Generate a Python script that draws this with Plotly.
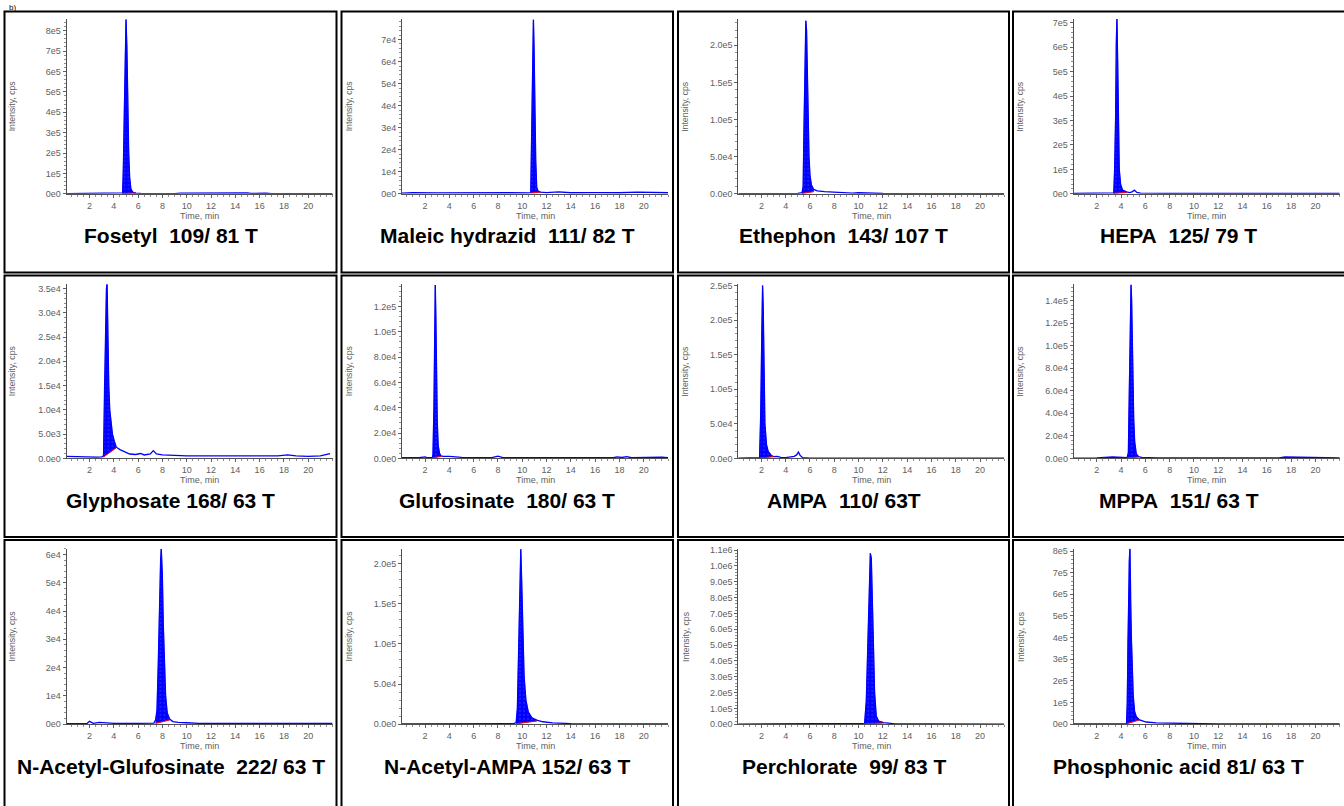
import plotly.graph_objects as go

W, H = 1344, 806

# ---------------- data ----------------
captions = ["Fosetyl  109/ 81 T", "Maleic hydrazid  111/ 82 T", "Ethephon  143/ 107 T", "HEPA  125/ 79 T",
            "Glyphosate 168/ 63 T", "Glufosinate  180/ 63 T", "AMPA  110/ 63T", "MPPA  151/ 63 T",
            "N-Acetyl-Glufosinate  222/ 63 T", "N-Acetyl-AMPA 152/ 63 T", "Perchlorate  99/ 83 T",
            "Phosphonic acid 81/ 63 T"]

x_ticks = [2, 4, 6, 8, 10, 12, 14, 16, 18, 20]

fosetyl_t = [0.1, 2, 4, 4.6, 4.72, 4.78, 4.85, 4.93, 5.0, 5.07, 5.13, 5.22, 5.3, 5.4, 5.55, 5.8, 6.2, 7, 9,
             9.5, 10.5, 12, 14, 15, 15.3, 16.2, 16.5, 17, 20, 22]
fosetyl_i = [1500, 1500, 1800, 2000, 5000, 1.2e5, 3.8e5, 7.5e5, 8.55e5, 7.2e5, 4.3e5, 2.0e5, 8e4, 2.5e4, 8e3,
             4e3, 2500, 1500, 1500, 4000, 4500, 5000, 5000, 4500, 2500, 5500, 3000, 1500, 1500, 1500]
fosetyl_int = [4.72, 5.8]
fosetyl_base = [1500, 4000]

maleic_t = [0.1, 1, 3, 5, 7, 9, 10.5, 10.7, 10.75, 10.84, 10.92, 10.97, 11.03, 11.11, 11.19, 11.3, 11.5, 12,
            13, 14, 16, 18, 19.5, 22]
maleic_i = [300, 500, 400, 500, 400, 500, 400, 600, 1.8e4, 5.2e4, 7.9e4, 6.7e4, 3.7e4, 1.5e4, 3000, 1200, 800,
            600, 900, 500, 600, 500, 800, 500]
maleic_int = [10.7, 11.5]
maleic_base = [400, 800]

ethephon_t = [0.1, 2, 4, 5.0, 5.35, 5.44, 5.5, 5.58, 5.66, 5.72, 5.78, 5.85, 5.92, 6.0, 6.12, 6.3, 6.6, 7.2, 8,
              8.5, 9.5, 10, 12, 16, 20, 22]
ethephon_i = [300, 300, 400, 600, 1500, 1e4, 8e4, 1.6e5, 2.33e5, 2.2e5, 1.5e5, 9e4, 5e4, 2.5e4, 1.2e4, 6e3, 4e3,
              3e3, 2000, 1500, 1000, 1500, 500, 400, 400, 400]
ethephon_int = [5.35, 6.3]
ethephon_base = [600, 3000]

hepa_t = [0.1, 2, 3.0, 3.4, 3.47, 3.55, 3.6, 3.66, 3.72, 3.77, 3.85, 3.96, 4.12, 4.45, 4.7, 4.9, 5.1, 5.3, 5.6,
          8, 12, 16, 20, 20.5, 21, 22]
hepa_i = [2000, 2000, 2500, 4000, 1e5, 3.1e5, 6.1e5, 7.15e5, 5.4e5, 3.0e5, 1.0e5, 4e4, 1.5e4, 8e3, 5e3, 8e3,
          1.5e4, 6e3, 3000, 2000, 2000, 2000, 2000, 4000, 3000, 2000]
hepa_int = [3.4, 4.45]
hepa_base = [2000, 6000]

glyphosate_t = [0.1, 1, 2, 2.6, 3.0, 3.15, 3.23, 3.31, 3.39, 3.44, 3.5, 3.58, 3.66, 3.77, 3.88, 4.04, 4.2, 4.5,
                4.8, 5.3, 5.8, 6.2, 6.5, 7.0, 7.25, 7.5, 8, 9, 10, 12, 14, 16, 17.5, 18.3, 19, 20, 21, 21.8]
glyphosate_i = [400, 300, 300, 250, 300, 500, 1.4e4, 2.6e4, 3.5e4, 3.59e4, 2.4e4, 1.5e4, 1.0e4, 7e3, 5e3,
                3.5e3, 2.3e3, 1.8e3, 1.5e3, 900, 800, 1000, 700, 900, 1600, 900, 700, 600, 500, 500, 450, 400,
                500, 700, 500, 400, 500, 1000]
glyphosate_int = [3.15, 4.2]
glyphosate_base = [300, 2200]

glufosinate_t = [0.1, 1.5, 2.0, 2.2, 2.6, 2.65, 2.73, 2.78, 2.84, 2.89, 2.95, 3.0, 3.08, 3.19, 3.3, 3.5, 4.0, 5,
                 7.5, 8.0, 8.4, 10, 14, 17.5, 17.8, 18.2, 18.6, 19, 21.5, 22]
glufosinate_i = [500, 500, 1200, 500, 600, 3e3, 4e4, 1.1e5, 1.37e5, 1.1e5, 6.2e4, 3e4, 1e4, 4e3, 2e3, 1500,
                 1500, 800, 600, 1800, 600, 500, 500, 500, 1200, 700, 1300, 500, 1000, 500]
glufosinate_int = [2.6, 3.3]
glufosinate_base = [500, 1500]

ampa_t = [0.1, 1.5, 1.85, 1.94, 2.02, 2.1, 2.15, 2.21, 2.29, 2.42, 2.56, 2.83, 3.0, 3.3, 3.6, 4.0, 4.4, 4.7,
          4.9, 5.05, 5.2, 5.4, 6, 10, 14, 18, 22]
ampa_i = [500, 500, 1000, 6e4, 1.8e5, 2.5e5, 2.2e5, 1.2e5, 5e4, 2e4, 1e4, 4e3, 2500, 3000, 1500, 1000, 2500,
          3000, 5000, 9000, 4000, 1000, 500, 500, 500, 500, 500]
ampa_int = [1.85, 3.0]
ampa_base = [500, 2500]

mppa_t = [0.1, 2, 3.3, 3.6, 4.0, 4.5, 4.6, 4.65, 4.71, 4.76, 4.82, 4.87, 4.93, 4.98, 5.04, 5.12, 5.25, 5.44,
          5.7, 7, 10, 14, 17, 17.5, 18.5, 19.5, 20.5, 22]
mppa_i = [300, 400, 1200, 1000, 400, 600, 5e3, 4.5e4, 1.0e5, 1.25e5, 1.54e5, 1.4e5, 1.0e5, 6e4, 3.5e4, 1.5e4,
          4e3, 1.5e3, 800, 500, 400, 400, 500, 1200, 1000, 1300, 800, 500]
mppa_int = [4.5, 5.44]
mppa_base = [500, 1200]

nacglu_t = [0.1, 1.8, 2.0, 2.3, 2.8, 3.2, 3.6, 4, 6, 7.3, 7.44, 7.55, 7.66, 7.77, 7.85, 7.9, 7.99, 8.07, 8.15,
            8.26, 8.39, 8.59, 8.86, 9.3, 10, 11, 14, 18, 20, 21, 22]
nacglu_i = [200, 300, 1000, 300, 600, 500, 600, 300, 300, 400, 1500, 5e3, 2.2e4, 4.8e4, 5.8e4, 6.2e4, 5.3e4,
            3.5e4, 2.0e4, 1.0e4, 4e3, 1.8e3, 900, 600, 500, 300, 300, 300, 400, 300, 300]
nacglu_int = [7.44, 8.59]
nacglu_base = [300, 1500]

nacampa_t = [0.1, 4, 8, 9.3, 9.5, 9.6, 9.7, 9.8, 9.88, 9.95, 10.05, 10.15, 10.3, 10.5, 10.8, 11.2, 11.7, 12.5,
             14, 18, 22]
nacampa_i = [300, 300, 400, 600, 2000, 2e4, 9e4, 1.8e5, 2.18e5, 1.8e5, 1.1e5, 6e4, 3e4, 1.5e4, 8e3, 5e3, 3e3,
             1500, 600, 400, 400]
nacampa_int = [9.5, 11.2]
nacampa_base = [600, 4000]

perchlorate_t = [0.1, 5, 10, 10.4, 10.5, 10.64, 10.75, 10.86, 10.97, 11.05, 11.13, 11.21, 11.32, 11.46, 11.65,
                 12.06, 12.6, 13, 16, 22]
perchlorate_i = [500, 500, 800, 1500, 5e3, 1.5e5, 5e5, 9e5, 1.08e6, 1.05e6, 8e5, 5e5, 2e5, 5e4, 2e4, 1e4, 5e3,
                 2000, 1000, 800]
perchlorate_int = [10.4, 12.06]
perchlorate_base = [1500, 8000]

phosphonic_t = [0.1, 2, 4, 4.45, 4.51, 4.56, 4.62, 4.67, 4.73, 4.78, 4.84, 4.92, 5.0, 5.11, 5.25, 5.52, 6.07,
                6.89, 8.26, 9.6, 10.4, 12, 16, 20, 22]
phosphonic_i = [1000, 1000, 1200, 2000, 1e5, 4e5, 6e5, 7.5e5, 8.1e5, 5.6e5, 4e5, 2.7e5, 1.3e5, 6e4, 3.5e4, 2e4,
                1e4, 6e3, 5e3, 3e3, 1e3, 800, 800, 800, 800]
phosphonic_int = [4.45, 5.52]
phosphonic_base = [2000, 2e4]

y_max = [8.58e5, 7.94e4, 2.355e5, 7.16e5, 3.59e4, 1.377e5, 2.52e5, 1.546e5, 6.2e4, 2.185e5, 1.108e6, 8.1e5]

ytick_vals = [
    [0, 1e5, 2e5, 3e5, 4e5, 5e5, 6e5, 7e5, 8e5],
    [0, 1e4, 2e4, 3e4, 4e4, 5e4, 6e4, 7e4],
    [0, 5e4, 1e5, 1.5e5, 2e5],
    [0, 1e5, 2e5, 3e5, 4e5, 5e5, 6e5, 7e5],
    [0, 5e3, 1e4, 1.5e4, 2e4, 2.5e4, 3e4, 3.5e4],
    [0, 2e4, 4e4, 6e4, 8e4, 1e5, 1.2e5],
    [0, 5e4, 1e5, 1.5e5, 2e5, 2.5e5],
    [0, 2e4, 4e4, 6e4, 8e4, 1e5, 1.2e5, 1.4e5],
    [0, 1e4, 2e4, 3e4, 4e4, 5e4, 6e4],
    [0, 5e4, 1e5, 1.5e5, 2e5],
    [0, 1e5, 2e5, 3e5, 4e5, 5e5, 6e5, 7e5, 8e5, 9e5, 1e6, 1.1e6],
    [0, 1e5, 2e5, 3e5, 4e5, 5e5, 6e5, 7e5, 8e5],
]
ytick_text = [
    ["0e0", "1e5", "2e5", "3e5", "4e5", "5e5", "6e5", "7e5", "8e5"],
    ["0e0", "1e4", "2e4", "3e4", "4e4", "5e4", "6e4", "7e4"],
    ["0.0e0", "5.0e4", "1.0e5", "1.5e5", "2.0e5"],
    ["0e0", "1e5", "2e5", "3e5", "4e5", "5e5", "6e5", "7e5"],
    ["0.0e0", "5.0e3", "1.0e4", "1.5e4", "2.0e4", "2.5e4", "3.0e4", "3.5e4"],
    ["0.0e0", "2.0e4", "4.0e4", "6.0e4", "8.0e4", "1.0e5", "1.2e5"],
    ["0.0e0", "5.0e4", "1.0e5", "1.5e5", "2.0e5", "2.5e5"],
    ["0.0e0", "2.0e4", "4.0e4", "6.0e4", "8.0e4", "1.0e5", "1.2e5", "1.4e5"],
    ["0e0", "1e4", "2e4", "3e4", "4e4", "5e4", "6e4"],
    ["0.0e0", "5.0e4", "1.0e5", "1.5e5", "2.0e5"],
    ["0.0e0", "1.0e5", "2.0e5", "3.0e5", "4.0e5", "5.0e5", "6.0e5", "7.0e5", "8.0e5", "9.0e5", "1.0e6", "1.1e6"],
    ["0e0", "1e5", "2e5", "3e5", "4e5", "5e5", "6e5", "7e5", "8e5"],
]

traces_t = [fosetyl_t, maleic_t, ethephon_t, hepa_t, glyphosate_t, glufosinate_t, ampa_t, mppa_t,
            nacglu_t, nacampa_t, perchlorate_t, phosphonic_t]
traces_i = [fosetyl_i, maleic_i, ethephon_i, hepa_i, glyphosate_i, glufosinate_i, ampa_i, mppa_i,
            nacglu_i, nacampa_i, perchlorate_i, phosphonic_i]
integ = [fosetyl_int, maleic_int, ethephon_int, hepa_int, glyphosate_int, glufosinate_int, ampa_int, mppa_int,
         nacglu_int, nacampa_int, perchlorate_int, phosphonic_int]
integ_base = [fosetyl_base, maleic_base, ethephon_base, hepa_base, glyphosate_base, glufosinate_base, ampa_base,
              mppa_base, nacglu_base, nacampa_base, perchlorate_base, phosphonic_base]

# ---------------- layout geometry (pixels) ----------------
col_left = [4.5, 341.5, 678, 1013]
col_right = [336.5, 673, 1009, 1352]
row_top = [7.5, 274.5, 542]
row_bot = [271.5, 539, 815]
axis_x = [66.5, 402, 738.3, 1073.7]
plot_w = 266
plot_top = [15, 283.3, 551]
plot_base = [192, 459.5, 728.3]
X_RANGE = [0.1, 22]


def px(x):
    return x / W


def py(y):
    return 1 - y / H


BLUE = "#0000FF"
GREY = "#606060"
FAM = "Liberation Sans, Arial, sans-serif"
TICKFONT = dict(family=FAM, size=9, color=GREY)

fig = go.Figure()
layout = dict(
    width=W, height=H, margin=dict(l=0, r=0, t=0, b=0),
    paper_bgcolor="white", plot_bgcolor="white", showlegend=False,
    shapes=[], annotations=[],
)

for k in range(12):
    r, c = divmod(k, 4)
    n = k + 1
    xa = "x" if n == 1 else f"x{n}"
    ya = "y" if n == 1 else f"y{n}"
    t = traces_t[k]
    v = traces_i[k]
    t0, t1 = integ[k]
    b0, b1 = integ_base[k]

    # integrated peak area (filled polygon)
    pk_t = [tt for tt in t if t0 <= tt <= t1]
    pk_v = [vv for tt, vv in zip(t, v) if t0 <= tt <= t1]
    fig.add_trace(go.Scatter(
        x=pk_t + [t1, t0], y=pk_v + [b1, b0], xaxis=xa, yaxis=ya, mode="lines",
        line=dict(color=BLUE, width=0.5), fill="toself", fillcolor=BLUE,
        fillpattern=dict(shape=".", fgcolor="#8C8CFF", size=4, solidity=0.12),
        hoverinfo="skip"))
    # chromatogram trace
    fig.add_trace(go.Scatter(x=t, y=v, xaxis=xa, yaxis=ya, mode="lines",
                             line=dict(color=BLUE, width=1.3), hoverinfo="skip"))
    # integration baseline
    fig.add_trace(go.Scatter(x=[t0, t1], y=[b0, b1], xaxis=xa, yaxis=ya, mode="lines",
                             line=dict(color="#FF0000", width=1), hoverinfo="skip"))

    xl = axis_x[c]
    xr = xl + plot_w
    yt = plot_top[r]
    yb = plot_base[r]
    step = ytick_vals[k][1]
    layout["xaxis" if n == 1 else f"xaxis{n}"] = dict(
        domain=[px(xl), px(xr)], range=X_RANGE, anchor=ya,
        tickmode="array", tickvals=x_ticks, ticktext=[str(x) for x in x_ticks],
        ticks="outside", ticklen=3, tickcolor=GREY, tickwidth=1,
        minor=dict(tickmode="linear", tick0=0, dtick=0.5, ticks="outside", ticklen=2, tickcolor="#909090"),
        showline=True, linecolor="#505050", linewidth=1, showgrid=False, zeroline=False,
        tickfont=TICKFONT, fixedrange=True)
    layout["yaxis" if n == 1 else f"yaxis{n}"] = dict(
        domain=[py(yb), py(yt)], range=[0, y_max[k]], anchor=xa,
        tickmode="array", tickvals=ytick_vals[k], ticktext=ytick_text[k],
        ticks="outside", ticklen=3, tickcolor=GREY, tickwidth=1,
        minor=dict(tickmode="linear", tick0=0, dtick=step / 5, ticks="outside", ticklen=2, tickcolor="#909090"),
        showline=True, linecolor="#505050", linewidth=1, showgrid=False, zeroline=False,
        tickfont=TICKFONT, fixedrange=True)

    # cell border
    layout["shapes"].append(dict(type="rect", xref="paper", yref="paper",
                                 x0=px(col_left[c]), x1=px(col_right[c]),
                                 y0=py(row_bot[r]), y1=py(row_top[r]),
                                 line=dict(color="black", width=2), layer="above"))
    # axis titles
    layout["annotations"].append(dict(
        text="Time, min", xref="paper", yref="paper", x=px((xl + xr) / 2), y=py(yb + 22),
        xanchor="center", yanchor="middle", showarrow=False,
        font=dict(family=FAM, size=9, color=GREY)))
    layout["annotations"].append(dict(
        text="Intensity, cps", xref="paper", yref="paper", x=px(col_left[c] + 7.5), y=py((yt + yb) / 2),
        xanchor="center", yanchor="middle", textangle=-90, showarrow=False,
        font=dict(family=FAM, size=8.7, color=GREY)))
    # caption (double spaces kept with a non-breaking space)
    cx = (col_left[c] + col_right[c]) / 2 if c < 3 else (col_left[c] + 1344) / 2
    layout["annotations"].append(dict(
        text="<b>" + captions[k].replace("  ", "\u00a0 ") + "</b>", xref="paper", yref="paper",
        x=px(cx), y=py(yb + 42.5),
        xanchor="center", yanchor="middle", showarrow=False,
        font=dict(family=FAM, size=21, color="black")))

# panel label in the top-left corner
layout["annotations"].append(dict(
    text="b)", xref="paper", yref="paper", x=px(12), y=py(3.5), xanchor="center", yanchor="middle",
    showarrow=False, font=dict(family=FAM, size=8, color="black")))

fig.update_layout(**layout)
fig.write_html("out.html")
